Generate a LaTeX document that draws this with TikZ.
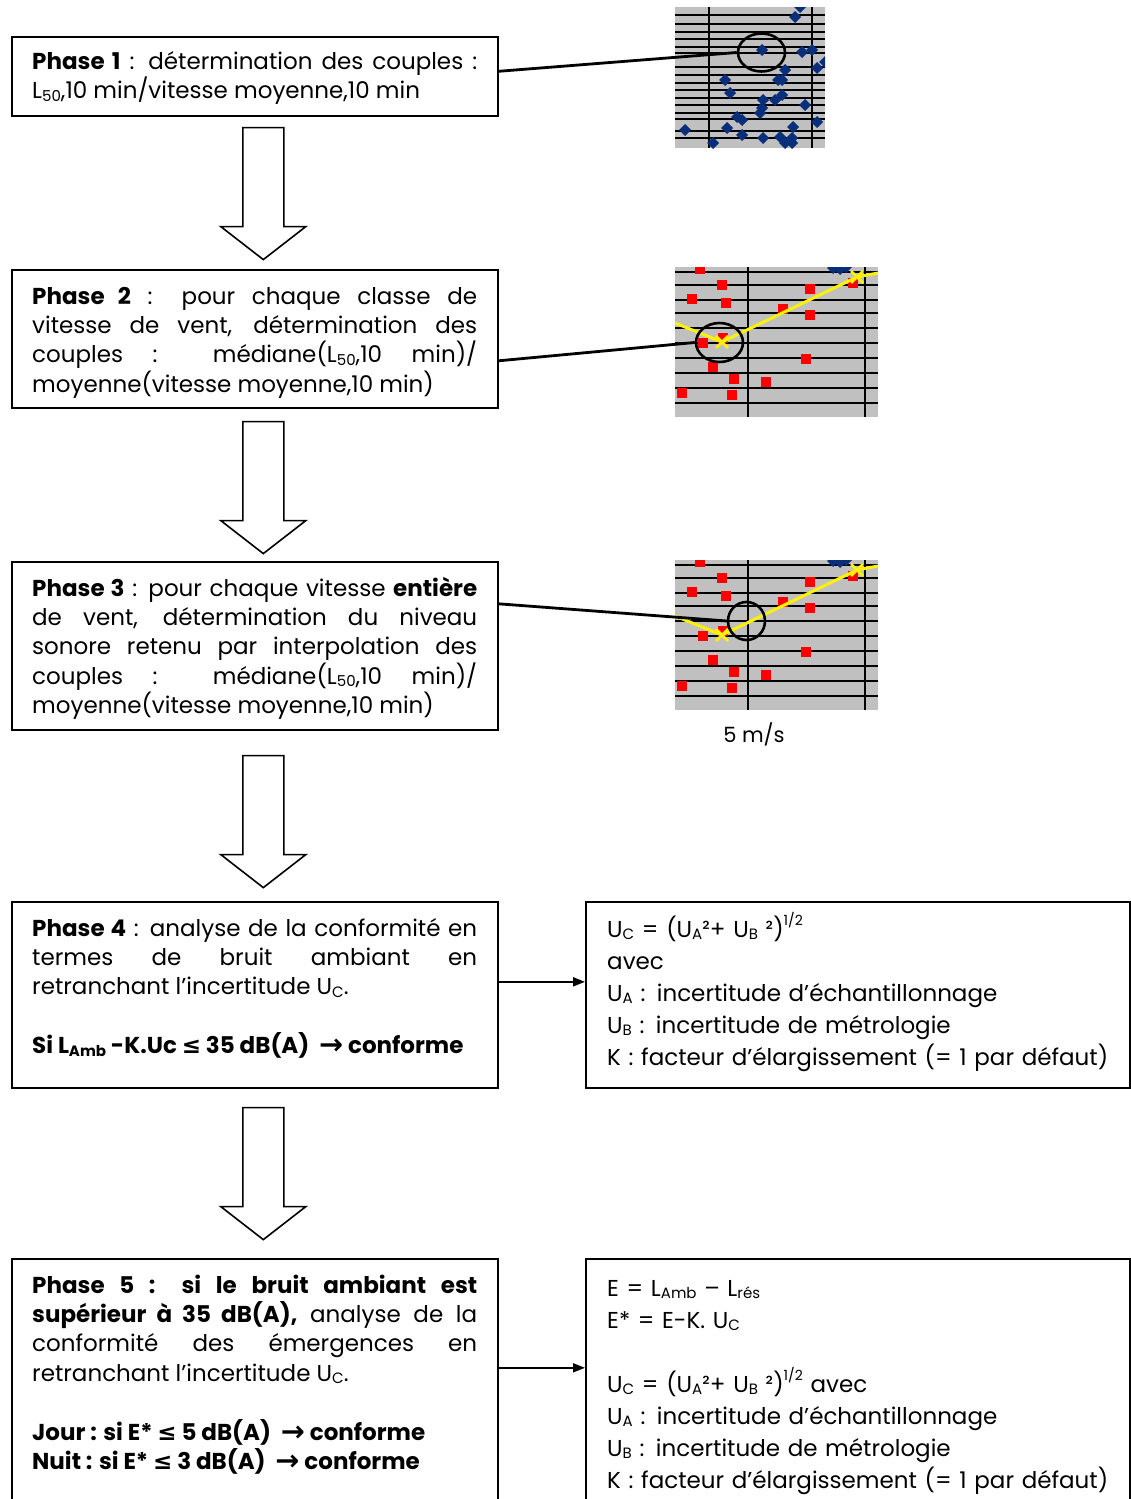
\documentclass[tikz,border=0pt]{standalone}
\usepackage{fontspec}
\setmainfont{Poppins}
\newfontfamily\symf{DejaVu Sans}
\usetikzlibrary{arrows.meta,shapes.geometric,calc}
\definecolor{chgray}{HTML}{C0C0C0}
\definecolor{navy}{HTML}{0A2F7A}
\hyphenpenalty=10000 \exhyphenpenalty=10000 \tolerance=10000
\newcommand\lsub[1]{\raisebox{-0.12em}{\fontsize{15}{15}\selectfont #1}}
\newcommand\hsup[1]{\raisebox{0.5em}{\fontsize{14}{14}\selectfont #1}}
\newcommand\mle{{\symf ≤}}
\newcommand\marr{\raisebox{-0.05em}{\scalebox{1.25}{\symf\bfseries →}}}
\newcommand\dia[2]{\fill[navy] (#1-6,#2) -- (#1,#2-6) -- (#1+6,#2) -- (#1,#2+6) -- cycle;}
\newcommand\chartB{%
  \fill[chgray] (0,0) rectangle (203,150);
  \begin{scope}
  \clip (0,0) rectangle (203,150);
  \foreach \y in {5,33,46,61,76,106,121,136} \draw[line width=1.2pt] (0,\y) -- (203,\y);
  \foreach \y in {18,91} \draw[line width=2.6pt] (0,\y) -- (203,\y);
  \foreach \x in {73,190} \draw[line width=1.6pt] (\x,0) -- (\x,150);
  \foreach \x/\y in {25/2,47/18,17/32,51/36,135/22,108/42,135/48,28/76,48/71,131/92,38/100,59/112,91/115,7/126,57/128,178/16}
     \fill[red] (\x-4.8,\y-4.8) rectangle ++(9.6,9.6);
  \dia{158}{1}\dia{165}{2}\dia{171}{0}
  \draw[yellow, line width=3pt] (0,56) -- (47,75) -- (182,10) -- (203,6);
  \draw[yellow, line width=2.6pt] (41,69) -- (53,81) (41,81) -- (53,69);
  \draw[yellow, line width=2.6pt] (176,4) -- (188,16) (176,16) -- (188,4);
  \end{scope}}
\tikzset{
  box/.style={draw, line width=1.6pt, anchor=north west, inner sep=0pt},
  lt/.style={anchor=base west, inner sep=0pt, text width=445pt, align=justify,
     font=\fontsize{23}{29.4}\selectfont},
  rt/.style={anchor=base west, inner sep=0pt, text width=515pt, align=left,
     font=\fontsize{23}{32}\selectfont},
  ptr/.style={line width=2.8pt},
  circ/.style={draw, ellipse, line width=2.6pt, inner sep=0pt},
  downarrow/.pic={\draw[line width=1.6pt, fill=white]
     (-20.5,0) -- (20.5,0) -- (20.5,99) -- (42.5,99) -- (0,132) -- (-42.5,99) -- (-20.5,99) -- cycle;},
  conn/.style={line width=1.8pt, -{Triangle[length=12pt,width=9pt]}}
}
\begin{document}
\begin{tikzpicture}[x=1pt,y=-1pt]
\clip (0,0) rectangle (1131,1499);
\fill[white] (0,0) rectangle (1131,1499);

% charts
\begin{scope}[shift={(675,7)}]
  \fill[chgray] (0,0) rectangle (150,141);
  \begin{scope}
  \clip (0,0) rectangle (150,141);
  \foreach \y in {8,17,25,32,40,46,68,76,83,91,98,106,112,131} \draw[line width=1.1pt] (0,\y) -- (150,\y);
  \foreach \y in {60,124} \draw[line width=2.4pt] (0,\y) -- (150,\y);
  \foreach \x in {34,137} \draw[line width=1.6pt] (\x,0) -- (\x,141);
  \foreach \x/\y in {125/0,120/10,87/43,127/45,137/43,150/55,142/61,110/63,50/73,103/73,107/73,55/86,107/88,100/93,88/93,130/98,87/101,85/106,62/110,67/113,142/115,52/121,118/120,10/123,67/128,88/131,105/130,117/131,38/136,110/136,117/136}
     {\dia{\x}{\y}}
  \end{scope}
\end{scope}
\begin{scope}[shift={(675,267)}] \chartB \end{scope}
\begin{scope}[shift={(675,560)}] \chartB \end{scope}

\node[circ, minimum width=47pt, minimum height=38pt] (c1) at (761.5,52.5) {};
\node[circ, minimum width=47pt, minimum height=39pt] (c2) at (719.5,342.5) {};
\node[circ, minimum width=37pt, minimum height=38pt] (c3) at (746.5,621) {};
\node[font=\fontsize{21}{24}\selectfont, inner sep=0pt] (speed) at (754,734) {5 m/s};

% boxes
\node[box, minimum width=486pt, minimum height=79pt] (p1) at (11,36) {};
\node[box, minimum width=486pt, minimum height=138pt] (p2) at (11,269) {};
\node[box, minimum width=486pt, minimum height=168pt] (p3) at (11,561) {};
\node[box, minimum width=486pt, minimum height=186pt] (p4) at (11,901) {};
\node[box, minimum width=486pt, minimum height=262pt] (p5) at (11,1258) {};
\node[box, minimum width=544pt, minimum height=186pt] (q4) at (585,901) {};
\node[box, minimum width=544pt, minimum height=262pt] (q5) at (585,1258) {};

% texts
\node[lt] (t1) at (32,69) {\textbf{Phase 1} : détermination des couples :\linebreak
L\lsub{50},10 min/vitesse moyenne,10 min};
\node[lt] (t2) at (32,304) {\textbf{Phase 2} : pour chaque classe de\linebreak
vitesse de vent, détermination des\linebreak
couples : médiane(L\lsub{50},10 min)/\linebreak
moyenne(vitesse moyenne,10 min)};
\node[lt] (t3) at (32,596) {\textbf{Phase 3} : pour chaque vitesse \textbf{entière}\linebreak
de vent, détermination du niveau\linebreak
sonore retenu par interpolation des\linebreak
couples : médiane(L\lsub{50},10 min)/\linebreak
moyenne(vitesse moyenne,10 min)};
\node[lt] (t4) at (32,936) {\textbf{Phase 4} : analyse de la conformité en\linebreak
termes de bruit ambiant en\linebreak
retranchant l’incertitude U\lsub{C}.\par\vspace{29.4pt}
\textbf{Si L\lsub{Amb} -K.Uc \mle{} 35 dB(A) \ \marr{} conforme}};
\node[lt] (t5) at (32,1293) {\textbf{Phase 5 : si le bruit ambiant est}\linebreak
\textbf{supérieur à 35 dB(A),} analyse de la\linebreak
conformité des émergences en\linebreak
retranchant l’incertitude U\lsub{C}.\par\vspace{29.4pt}
\textbf{Jour : si E* \mle{} 5 dB(A) \ \marr{} conforme}\par
\textbf{Nuit : si E* \mle{} 3 dB(A) \ \marr{} conforme}};

\node[rt] (u4) at (607,937) {U\lsub{C} = (U\lsub{A}²+ U\lsub{B} ²)\hsup{1/2}\\
avec\\
U\lsub{A} : incertitude d’échantillonnage\\
U\lsub{B} : incertitude de métrologie\\
K : facteur d’élargissement (= 1 par défaut)};
\node[rt] (u5) at (607,1296) {E = L\lsub{Amb} – L\lsub{rés}\\
E* = E-K. U\lsub{C}\\[32pt]
U\lsub{C} = (U\lsub{A}²+ U\lsub{B} ²)\hsup{1/2} avec\\
U\lsub{A} : incertitude d’échantillonnage\\
U\lsub{B} : incertitude de métrologie\\
K : facteur d’élargissement (= 1 par défaut)};

% block arrows
\pic at ($(p1.south)+(8.5,11)$) {downarrow};
\pic at ($(p2.south)+(8.5,13)$) {downarrow};
\pic at ($(p3.south)+(8.5,25)$) {downarrow};
\pic at ($(p4.south)+(8.5,19)$) {downarrow};

% pointers
\draw[ptr] ([yshift=5pt]p1.east) -- (c1.west);
\draw[ptr] ([yshift=-22pt]p2.east) -- (c2.west);
\draw[ptr] ([yshift=42pt]p3.east) -- (c3.west);
\draw[conn] ([yshift=13pt]p4.east) -- ([yshift=13pt]q4.west);
\draw[conn] ([yshift=22pt]p5.east) -- ([yshift=22pt]q5.west);
\end{tikzpicture}
\end{document}
